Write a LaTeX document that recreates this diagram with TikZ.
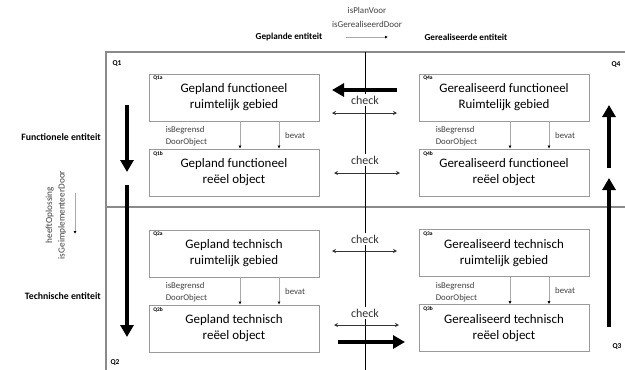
\documentclass[tikz,border=0pt]{standalone}
\usepackage{fontspec}
\setmainfont{Carlito}
\usetikzlibrary{arrows.meta,calc}
\definecolor{framegray}{HTML}{8A8A8A}
\definecolor{boxgray}{HTML}{9A9A9A}
\definecolor{thingray}{HTML}{A8A8A8}
\tikzset{
  qbox/.style={draw=boxgray, line width=0.9bp, minimum width=170bp, minimum height=47bp,
    align=center, inner sep=0pt, font=\fontsize{13}{16}\selectfont},
  qtag/.style={anchor=north west, inner sep=1.5bp, font=\fontsize{5.5}{6}\selectfont\bfseries},
  qcorner/.style={inner sep=0pt, font=\fontsize{7.5}{8}\selectfont\bfseries},
  small/.style={inner sep=0pt, font=\fontsize{9}{12}\selectfont, text=black!75},
  sidelabel/.style={inner sep=0pt, font=\fontsize{9.8}{12}\selectfont\bfseries},
  chklabel/.style={fill=white, inner sep=1.5bp, font=\fontsize{12}{14}\selectfont, text=black!80},
  chk/.style={black!80, line width=0.8bp, {Stealth[length=4bp,width=4bp]}-{Stealth[length=4bp,width=4bp]}},
  rel/.style={thingray, line width=0.8bp, -{Latex[length=3bp,width=3bp,black]}},
  thick arrow/.style={black, line width=4bp, -{Triangle[length=12bp,width=13bp]}},
}
\begin{document}
\begin{tikzpicture}[x=1bp,y=-1bp]
\useasboundingbox (0,0) rectangle (625,369);

% frame
\draw[framegray, line width=1.5bp] (106,372) -- (106,52) -- (628,52);
\draw[framegray, line width=1.5bp] (106,207) -- (628,207);
\draw[black, line width=0.8bp] (365,52) -- (365,372);

% header
\node[sidelabel, font=\fontsize{9.2}{11}\selectfont\bfseries] (hplan) at (289,37) {Geplande entiteit};
\node[sidelabel, font=\fontsize{9.2}{11}\selectfont\bfseries] (hreal) at (466,37) {Gerealiseerde entiteit};
\node[small, align=center, font=\fontsize{9}{14.5}\selectfont] (hrel) at (367,17.5) {isPlanVoor\\isGerealiseerdDoor};
\coordinate (ha) at (346,37);
\coordinate (hb) at (388,37);
\draw[rel] (ha) -- (hb);

% side labels
\node[sidelabel, anchor=east] (sfun) at (101,137) {Functionele entiteit};
\node[sidelabel, anchor=east] (stec) at (101,296) {Technische entiteit};
\node[small, rotate=90, align=center, font=\fontsize{9.3}{12.5}\selectfont] (srel) at (56,215) {heeftOplossing\\isGeimplementeerDoor};
\coordinate (sa) at (75,193);
\coordinate (sb) at (75,234);
\draw[rel] (sa) -- (sb);

% quadrant corner labels
\node[qcorner] (Q1) at (117,64) {Q1};
\node[qcorner] (Q4) at (616,65) {Q4};
\node[qcorner] (Q2) at (115,363) {Q2};
\node[qcorner] (Q3) at (617,347) {Q3};

% boxes
\node[qbox] (q1a) at (234,97.5) {Gepland functioneel\\ruimtelijk gebied};
\node[qbox] (q1b) at (234,172.5) {Gepland functioneel\\reëel object};
\node[qbox] (q4a) at (504,97.5) {Gerealiseerd functioneel\\Ruimtelijk gebied};
\node[qbox] (q4b) at (504,172.5) {Gerealiseerd functioneel\\reëel object};
\node[qbox] (q2a) at (234,253.5) {Gepland technisch\\ruimtelijk gebied};
\node[qbox] (q2b) at (234,328.5) {Gepland technisch\\reëel object};
\node[qbox] (q3a) at (504,253) {Gerealiseerd technisch\\ruimtelijk gebied};
\node[qbox] (q3b) at (504,328) {Gerealiseerd technisch\\reëel object};

\foreach \b/\t in {q1a/Q1a,q1b/Q1b,q4a/Q4a,q4b/Q4b,q2a/Q2a,q2b/Q2b,q3a/Q3a,q3b/Q3b}{
  \node[qtag] (\b tag) at ($(\b.north west)+(3,1)$) {\t};
}

% relations between a and b boxes
\foreach \a/\b in {q1a/q1b,q4a/q4b,q2a/q2b,q3a/q3b}{
  \draw[rel] ([xshift=6bp]\a.south) -- ([xshift=6bp]\b.north);
  \draw[rel] ([xshift=45bp]\a.south) -- ([xshift=45bp]\b.north);
  \node[small, anchor=west, align=left, font=\fontsize{8.8}{12}\selectfont] (\a isb) at ($(\a.south west)+(17,15)$) {isBegrensd\\DoorObject};
  \node[small, anchor=west, font=\fontsize{8.8}{12}\selectfont] (\a bev) at ($(\a.south)+(51,14)$) {bevat};
}

% check labels and arrows
\node[chklabel] (ck1) at (365,100) {check};
\node[chklabel] (ck2) at (365,160) {check};
\node[chklabel] (ck3) at (365,239) {check};
\node[chklabel] (ck4) at (365,313) {check};
\coordinate (c1l) at (332,113); \coordinate (c1r) at (397,113);
\coordinate (c2l) at (334,173); \coordinate (c2r) at (400,173);
\coordinate (c3l) at (332,251); \coordinate (c3r) at (397,251);
\coordinate (c4l) at (334,325); \coordinate (c4r) at (399,325);
\draw[chk] (c1l) -- (c1r);
\draw[chk] (c2l) -- (c2r);
\draw[chk] (c3l) -- (c3r);
\draw[chk] (c4l) -- (c4r);

% thick arrows
\coordinate (t1a) at (397,90);  \coordinate (t1b) at (332,90);
\coordinate (t2a) at (338,342); \coordinate (t2b) at (405,342);
\draw[thick arrow] (t1a) -- (t1b);
\draw[thick arrow] (t2a) -- (t2b);
\coordinate (l1a) at (127,105); \coordinate (l1b) at (127,172);
\coordinate (l2a) at (127,185); \coordinate (l2b) at (127,337);
\coordinate (r1a) at (609,327); \coordinate (r1b) at (609,178);
\coordinate (r2a) at (609,168); \coordinate (r2b) at (609,105);
\draw[thick arrow] (l1a) -- (l1b);
\draw[thick arrow] (l2a) -- (l2b);
\draw[thick arrow] (r1a) -- (r1b);
\draw[thick arrow] (r2a) -- (r2b);
\end{tikzpicture}
\end{document}
